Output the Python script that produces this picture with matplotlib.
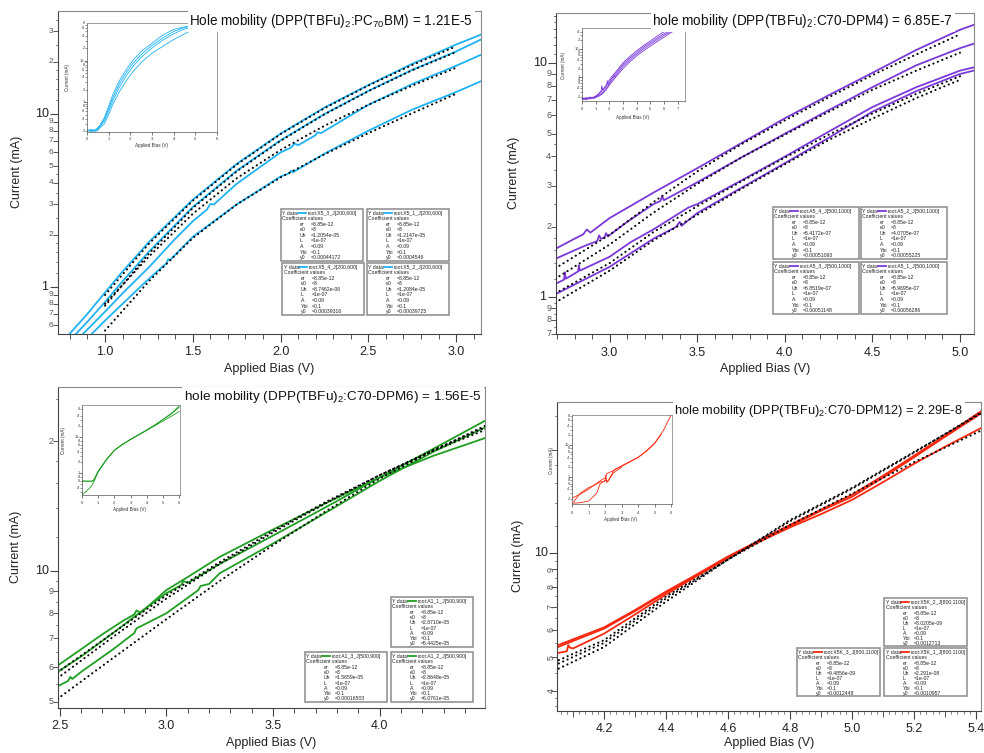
import matplotlib
matplotlib.use("Agg")
import numpy as np
import matplotlib.pyplot as plt
import matplotlib.transforms as mtransforms
from matplotlib.lines import Line2D
from matplotlib.patches import Rectangle
from matplotlib.ticker import FixedLocator, NullFormatter

plt.rcParams['font.family'] = ['Liberation Sans', 'DejaVu Sans']
plt.rcParams['mathtext.fontset'] = 'custom'
plt.rcParams['mathtext.rm'] = 'Liberation Sans'
plt.rcParams['mathtext.it'] = 'Liberation Sans:italic'
plt.rcParams['mathtext.bf'] = 'Liberation Sans:bold'

# ---------------- data ----------------
# Panel 1 (PC70BM)
p1_a_v = [0.79, 0.9, 1.0, 1.1, 1.25, 1.5, 1.75, 2.0, 2.25, 2.5, 2.75, 3.0, 3.15]
p1_a_i = [0.525, 0.70, 0.93, 1.23, 1.82, 3.2, 5.15, 7.7, 10.9, 14.7, 19.5, 25.2, 29.0]
p1_b_v = [0.83, 0.9, 1.0, 1.1, 1.25, 1.5, 1.75, 2.0, 2.25, 2.5, 2.75, 3.0, 3.15]
p1_b_i = [0.53, 0.63, 0.82, 1.08, 1.6, 2.9, 4.7, 7.05, 10.0, 13.6, 18.0, 23.0, 27.2]
p1_c_v = [0.87, 1.0, 1.1, 1.25, 1.4, 1.5, 1.58, 1.6, 1.62, 1.75, 2.0, 2.06, 2.08, 2.1, 2.2, 2.21, 2.23, 2.5, 2.75, 3.0, 3.15]
p1_c_i = [0.53, 0.72, 0.92, 1.3, 1.9, 2.4, 2.8, 3.02, 3.0, 3.95, 6.0, 6.4, 6.75, 6.6, 7.55, 7.85, 7.75, 11.3, 14.9, 19.0, 22.2]
p1_d_v = [0.92, 1.0, 1.1, 1.2, 1.3, 1.35, 1.36, 1.37, 1.5, 1.75, 2.0, 2.05, 2.06, 2.07, 2.25, 2.5, 2.75, 3.0, 3.15]
p1_d_i = [0.53, 0.64, 0.8, 1.0, 1.24, 1.37, 1.45, 1.43, 1.95, 3.0, 4.35, 4.55, 4.7, 4.6, 5.9, 8.0, 10.6, 13.4, 15.6]
p1_fit_v = [1.0, 1.25, 1.5, 1.75, 2.0, 2.25, 2.5, 2.75, 3.0]
p1_fa_i = [0.9, 1.78, 3.15, 5.1, 7.65, 10.8, 14.6, 19.2, 24.6]
p1_fb_i = [0.78, 1.56, 2.86, 4.66, 7.0, 9.95, 13.55, 17.9, 22.8]
p1_fc_i = [0.8, 1.5, 2.65, 4.25, 6.2, 8.55, 11.3, 14.6, 18.5]
p1_fd_i = [0.56, 1.08, 1.92, 3.0, 4.3, 5.85, 7.75, 10.1, 13.1]
# inset 1
p1i_v = [0, 0.2, 0.4, 0.5, 0.6, 0.8, 1.0, 1.2, 1.5, 1.8, 2.1, 2.5, 3.0, 3.5, 4.0, 4.4, 4.75]
p1i_i1 = [0.21, 0.2, 0.22, 0.24, 0.28, 0.42, 0.8, 1.55, 3.3, 5.9, 9.8, 16.5, 26, 41, 56, 63, 68]
p1i_i2 = [0.2, 0.22, 0.2, 0.23, 0.27, 0.38, 0.7, 1.3, 2.8, 5.0, 8.3, 14, 23, 35, 50, 60, 67]
p1i_i3 = [0.22, 0.19, 0.21, 0.22, 0.26, 0.35, 0.6, 1.1, 2.3, 4.2, 7.0, 12, 20, 31, 44, 55, 62]
p1i_i4 = [0.2, 0.21, 0.2, 0.21, 0.24, 0.3, 0.5, 0.9, 1.8, 3.2, 5.2, 9, 15, 22, 32, 41, 51]

# Panel 2 (C70-DPM4)
p2_a_v = [2.69, 2.8, 2.85, 2.87, 2.89, 3.0, 3.25, 3.5, 3.75, 4.0, 4.25, 4.5, 4.75, 5.0, 5.09]
p2_a_i = [1.61, 1.78, 1.86, 1.95, 1.89, 2.18, 2.8, 3.56, 4.55, 5.82, 7.3, 9.1, 11.4, 13.9, 14.7]
p2_b_v = [2.69, 2.85, 2.93, 2.94, 2.95, 2.97, 2.98, 2.99, 3.1, 3.25, 3.29, 3.3, 3.31, 3.5, 3.75, 4.0, 4.25, 4.5, 4.75, 5.0, 5.09]
p2_b_i = [1.46, 1.65, 1.74, 1.84, 1.78, 1.8, 1.88, 1.82, 2.1, 2.5, 2.58, 2.7, 2.6, 3.1, 3.95, 5.0, 6.3, 7.9, 9.8, 11.6, 12.2]
p2_c_v = [2.69, 2.74, 2.745, 2.75, 2.82, 2.825, 2.83, 3.0, 3.12, 3.25, 3.45, 3.5, 3.75, 4.0, 4.25, 4.5, 4.75, 5.0, 5.09]
p2_c_i = [1.14, 1.19, 1.28, 1.2, 1.29, 1.37, 1.3, 1.49, 1.72, 1.95, 2.42, 2.5, 3.15, 3.99, 5.1, 6.5, 7.9, 9.3, 9.65]
p2_d_v = [2.69, 3.0, 3.25, 3.38, 3.4, 3.41, 3.5, 3.75, 4.0, 4.25, 4.5, 4.75, 5.0, 5.09]
p2_d_i = [1.03, 1.35, 1.78, 2.0, 2.1, 2.02, 2.29, 2.93, 3.74, 4.8, 6.21, 7.6, 9.0, 9.35]
p2_fit_v = [2.69, 3.0, 3.25, 3.5, 3.75, 4.0, 4.25, 4.5, 4.75, 5.0]
p2_fa_i = [1.33, 1.85, 2.55, 3.45, 4.5, 5.7, 7.15, 8.9, 10.9, 13.3]
p2_fb_i = [1.2, 1.68, 2.3, 3.05, 3.95, 4.95, 6.2, 7.7, 9.3, 11.1]
p2_fc_i = [1.04, 1.4, 1.9, 2.45, 3.12, 3.95, 4.95, 6.1, 7.4, 8.8]
p2_fd_i = [0.95, 1.3, 1.75, 2.25, 2.9, 3.7, 4.7, 5.8, 7.1, 8.5]
# inset 2
p2i_v1 = [0, 0.3, 0.6, 0.9, 1.2, 1.4, 1.45, 1.5, 1.8, 2.1, 2.5, 3.0, 3.5, 4.0, 4.5, 5.0, 5.5, 6.0, 6.4]
p2i_i1 = [0.18, 0.16, 0.19, 0.2, 0.26, 0.33, 0.5, 0.36, 0.55, 0.95, 1.6, 3.2, 5.4, 8.6, 13, 19, 28, 40, 54]
p2i_v2 = [0, 0.3, 0.6, 0.9, 1.2, 1.4, 1.6, 1.8, 1.85, 1.9, 2.1, 2.5, 3.0, 3.5, 4.0, 4.5, 5.0, 5.5, 6.0, 6.5, 6.8]
p2i_i2 = [0.17, 0.19, 0.17, 0.19, 0.24, 0.3, 0.38, 0.5, 0.75, 0.55, 0.82, 1.4, 2.8, 4.7, 7.4, 11.5, 16.5, 24, 34, 46, 54]
p2i_v3 = [0, 0.3, 0.6, 0.9, 1.2, 1.5, 1.8, 2.1, 2.3, 2.35, 2.4, 2.5, 3.0, 3.5, 4.0, 4.5, 5.0, 5.5, 6.0, 6.5, 7.0]
p2i_i3 = [0.16, 0.18, 0.2, 0.18, 0.22, 0.28, 0.42, 0.7, 0.95, 1.2, 1.0, 1.2, 2.4, 4.1, 6.5, 10, 14.5, 21, 30, 41, 54]
p2i_v4 = [0, 0.3, 0.6, 0.9, 1.2, 1.5, 1.8, 2.1, 2.5, 3.0, 3.5, 4.0, 4.5, 5.0, 5.5, 6.0, 6.5, 7.1]
p2i_i4 = [0.19, 0.17, 0.18, 0.2, 0.21, 0.26, 0.38, 0.6, 1.05, 2.0, 3.5, 5.6, 8.6, 12.5, 18, 26, 37, 54]

# Panel 3 (C70-DPM6)
p3_a_v = [2.49, 2.6, 2.7, 2.8, 2.85, 2.86, 2.88, 2.95, 3.0, 3.1, 3.25, 3.5, 3.75, 4.0, 4.25, 4.5]
p3_a_i = [6.05, 6.6, 7.15, 7.7, 7.95, 8.12, 8.02, 8.6, 9.05, 9.7, 10.8, 12.5, 14.4, 16.5, 18.5, 20.4]
p3_b_v = [2.49, 2.6, 2.75, 2.9, 3.0, 3.07, 3.08, 3.1, 3.25, 3.5, 3.75, 4.0, 4.25, 4.5]
p3_b_i = [5.85, 6.35, 7.2, 8.2, 8.9, 9.3, 9.5, 9.4, 10.4, 12.1, 14.1, 16.5, 19.2, 22.4]
p3_c_v = [2.49, 2.54, 2.55, 2.56, 2.6, 2.75, 2.85, 2.86, 2.9, 3.0, 3.15, 3.16, 3.2, 3.25, 3.5, 3.75, 4.0, 4.25, 4.5]
p3_c_i = [5.42, 5.58, 5.7, 5.64, 5.85, 6.6, 7.2, 7.38, 7.55, 8.0, 9.05, 9.25, 9.35, 9.9, 11.6, 13.7, 16.2, 18.9, 21.6]
p3_fit_v = [2.49, 2.75, 3.0, 3.25, 3.5, 3.75, 4.0, 4.25, 4.5]
p3_fa_i = [5.84, 7.2, 8.8, 10.5, 12.4, 14.5, 16.7, 19.0, 21.3]
p3_fb_i = [5.66, 7.05, 8.65, 10.4, 12.3, 14.4, 16.7, 19.1, 21.6]
p3_fc_i = [5.07, 6.3, 7.75, 9.5, 11.5, 13.8, 16.4, 19.0, 21.8]
# inset 3
p3i_v1 = [0, 0.3, 0.6, 0.7, 1.0, 1.5, 2.0, 2.5, 3.0, 3.5, 4.0, 4.5, 5.0, 5.5, 6.0]
p3i_i1 = [0.6, 0.61, 0.6, 0.62, 1.15, 2.4, 4.4, 6.4, 8.8, 11.8, 16, 22, 31.6, 46, 74]
p3i_i2 = [0.62, 0.6, 0.61, 0.63, 1.12, 2.35, 4.3, 6.3, 8.7, 11.6, 15.6, 21, 28.5, 38, 52]
p3i_v3 = [0, 0.3, 0.6, 0.75, 1.0, 1.5, 2.0, 2.5, 3.0, 3.5, 4.0, 4.5, 5.0, 5.5, 6.0]
p3i_i3 = [0.25, 0.33, 0.45, 0.6, 1.1, 2.4, 4.4, 6.4, 8.8, 11.8, 16, 22, 31, 44, 68]

# Panel 4 (C70-DPM12)
p4_a_v = [4.04, 4.2, 4.3, 4.4, 4.5, 4.6, 4.7, 4.8, 4.9, 5.0, 5.1, 5.2, 5.3, 5.42]
p4_a_i = [5.37, 6.1, 6.85, 7.75, 8.7, 9.8, 10.9, 12.1, 13.4, 14.8, 16.8, 19.2, 22.0, 26.0]
p4_b_v = [4.04, 4.08, 4.085, 4.09, 4.1, 4.2, 4.3, 4.4, 4.5, 4.6, 4.7, 4.8, 4.9, 5.0, 5.1, 5.2, 5.3, 5.42]
p4_b_i = [5.12, 5.2, 5.42, 5.33, 5.3, 5.85, 6.65, 7.6, 8.6, 9.7, 10.8, 12.0, 13.3, 14.6, 16.6, 19.0, 21.8, 25.6]
p4_c_v = [4.04, 4.2, 4.3, 4.4, 4.5, 4.6, 4.7, 4.8, 4.9, 5.0, 5.1, 5.2, 5.3, 5.42]
p4_c_i = [5.3, 6.05, 6.8, 7.7, 8.65, 9.75, 10.8, 11.9, 13.0, 14.3, 16.1, 18.2, 20.4, 23.2]
p4_fit_v = [4.04, 4.2, 4.4, 4.6, 4.8, 5.0, 5.2, 5.42]
p4_fa_i = [4.84, 5.6, 7.5, 9.6, 12.5, 15.5, 19.7, 25.6]
p4_fb_i = [4.73, 5.5, 7.4, 9.6, 12.4, 15.4, 19.6, 25.8]
p4_fc_i = [4.57, 5.35, 7.25, 9.6, 12.1, 14.9, 18.4, 22.8]
# inset 4
p4i_v1 = [0, 0.5, 1.0, 1.5, 1.8, 2.0, 2.1, 2.5, 3.0, 3.5, 4.0, 4.5, 5.0, 5.5, 6.0]
p4i_i1 = [0.21, 0.28, 0.4, 0.62, 0.8, 0.9, 1.25, 1.55, 2.2, 3.0, 4.1, 6.5, 11.5, 27, 88]
p4i_v2 = [0, 0.5, 1.0, 1.5, 1.7, 2.0, 2.2, 2.5, 2.6, 3.0, 3.5, 4.0, 4.5, 5.0, 5.4]
p4i_i2 = [0.145, 0.15, 0.17, 0.3, 0.6, 0.75, 0.72, 1.5, 1.7, 2.1, 2.9, 4.0, 6.3, 11, 22]
p4i_v3 = [0.1, 0.5, 1.0, 1.4, 1.7, 2.0, 2.05, 2.1, 2.5, 3.0]
p4i_i3 = [0.16, 0.3, 0.45, 0.55, 0.68, 0.72, 1.1, 0.65, 1.3, 2.0]

# coefficient boxes
p1_roots = ['root:X5_3_J[200,600]', 'root:X5_1_J[200,600]', 'root:X5_4_J[200,600]', 'root:X5_2_J[200,600]']
p1_uh = ['1.2054e-05', '1.2147e-05', '8.7462e-06', '1.2084e-05']
p1_y0 = ['0.00044172', '0.0004546', '0.00039316', '0.00039725']
p2_roots = ['root:A5_4_J[500,1000]', 'root:A5_2_J[500,1000]', 'root:A5_3_J[500,1000]', 'root:A5_1_J[500,1000]']
p2_uh = ['5.4172e-07', '4.0705e-07', '6.8519e-07', '5.9695e-07']
p2_y0 = ['0.00051093', '0.00055225', '0.00051148', '0.00056286']
p3_roots = ['root:A1_1_J[500,900]', 'root:A1_3_J[500,900]', 'root:A1_2_J[500,900]']
p3_uh = ['2.8710e-05', '1.5659e-05', '2.8648e-05']
p3_y0 = ['5.4425e-05', '0.00016503', '6.0761e-05']
p4_roots = ['root:X5K_2_J[800,1100]', 'root:X5K_3_J[800,1100]', 'root:X5K_1_J[800,1100]']
p4_uh = ['8.0205e-09', '9.4856e-09', '2.291e-08']
p4_y0 = ['0.0012713', '0.0012448', '0.0010957']

titles = [r"Hole mobility (DPP(TBFu)$_{2}$:PC$_{70}$BM) = 1.21E-5",
          r"hole mobility (DPP(TBFu)$_{2}$:C70-DPM4) = 6.85E-7",
          r"hole mobility (DPP(TBFu)$_{2}$:C70-DPM6) = 1.56E-5",
          r"hole mobility (DPP(TBFu)$_{2}$:C70-DPM12) = 2.29E-8"]

C1, C2, C3, C4 = '#1fb2f2', '#7b38d8', '#1f9e22', '#f8280f'

# ---------------- helpers ----------------
W, H = 984, 753
fig = plt.figure(figsize=(W / 100, H / 100), dpi=100)
PT = 0.72  # points per pixel


def px_axes(l, t, r, b):
    return fig.add_axes([l / W, 1 - b / H, (r - l) / W, (b - t) / H])


def base_style(ax, xlim, ylim, xmaj, xmin, ymaj, ymin, maj_len, min_len, lw, spc):
    ax.set_yscale('log')
    ax.set_xlim(*xlim)
    ax.set_ylim(*ylim)
    ax.xaxis.set_major_locator(FixedLocator(xmaj))
    ax.xaxis.set_minor_locator(FixedLocator(xmin))
    ax.yaxis.set_major_locator(FixedLocator(ymaj))
    ax.yaxis.set_minor_locator(FixedLocator(ymin))
    for a in (ax.xaxis, ax.yaxis):
        a.set_major_formatter(NullFormatter())
        a.set_minor_formatter(NullFormatter())
    ax.tick_params(which='major', direction='out', length=maj_len, width=lw, color='#444')
    ax.tick_params(which='minor', direction='out', length=min_len, width=lw * 0.8, color='#444')
    for k, s in ax.spines.items():
        s.set_linewidth(lw)
        s.set_color(spc[0] if k in ('left', 'bottom') else spc[1])


def fine_y(ax, ys, length_px):
    trans = mtransforms.blended_transform_factory(ax.transAxes, ax.transData)
    wpx = ax.get_position().width * W
    for y in ys:
        ax.add_line(Line2D([-length_px / wpx, 0], [y, y], transform=trans,
                           color='#444', lw=0.45, clip_on=False))


def fine_x(ax, xs, length_px):
    trans = mtransforms.blended_transform_factory(ax.transData, ax.transAxes)
    hpx = ax.get_position().height * H
    for x in xs:
        ax.add_line(Line2D([x, x], [-length_px / hpx, 0], transform=trans,
                           color='#444', lw=0.45, clip_on=False))


def ylab(ax, v, s, off_px, fs, color='#222', rot=0):
    ax.annotate(s, xy=(0, v), xycoords=('axes fraction', 'data'), xytext=(-off_px * PT, 0),
                textcoords='offset points', ha='right' if rot == 0 else 'center',
                va='center', fontsize=fs, color=color, rotation=rot, annotation_clip=False)


def xlab(ax, v, s, off_px, fs, color='#222'):
    ax.annotate(s, xy=(v, 0), xycoords=('data', 'axes fraction'), xytext=(0, -off_px * PT),
                textcoords='offset points', ha='center', va='center', fontsize=fs,
                color=color, annotation_clip=False)


def ftext(x, y, s, **kw):
    return fig.text(x / W, 1 - y / H, s, **kw)


def coef_box(x, y, w, h, color, root, uh, y0):
    fig.add_artist(Rectangle((x / W, 1 - (y + h) / H), w / W, h / H, transform=fig.transFigure,
                             facecolor='white', edgecolor='#8a8a8a', lw=1.1, zorder=20))
    fs = 3.7
    kw = dict(fontsize=fs, color='#222', va='center', ha='left', zorder=21)
    ftext(x + 1.5, y + 4.3, 'Y data:', **kw)
    fig.add_artist(Line2D([(x + 17) / W, (x + 25) / W], [1 - (y + 4.3) / H] * 2,
                          transform=fig.transFigure, color=color, lw=1.3, zorder=21))
    ftext(x + 27, y + 4.3, root, **kw)
    ftext(x + 1.5, y + 9.8, 'Coefficient values', **kw)
    names = ['er', 'e0', 'Uh', 'L', 'A', 'Ybi', 'y0']
    vals = ['=8.85e-12', '=3', '=' + uh, '=1e-07', '=0.09', '=0.1', '=' + y0]
    step = (h - 15.2) / 6.6
    for k, (n, v) in enumerate(zip(names, vals)):
        yy = y + 15.2 + step * k
        ftext(x + 19, yy, n, **kw)
        ftext(x + 30, yy, v, **kw)


def fit_line(ax, v, i):
    ax.plot(v, i, color='black', lw=1.5, linestyle=(0, (0.1, 2.2)),
            dash_capstyle='round', zorder=3)


def data_line(ax, v, i, c, lw=1.3):
    ax.plot(v, i, color=c, lw=lw, zorder=2, solid_joinstyle='round')


def inset_axes(rect, xlim, ylim, xt, ymaj, ymin_lab, ymin_extra, ylabels, xlab_off, xl_pos, yl_pos):
    ax = px_axes(*rect)
    base_style(ax, xlim, ylim, xt, [], ymaj, list(ymin_lab) + list(ymin_extra), 2.0, 1.2, 0.5,
               ('#555', '#777'))
    for v in xt:
        xlab(ax, v, '%d' % v, xlab_off, 3.0, '#333')
    for v, s in ylabels:
        ylab(ax, v, s, 2.5, 2.8, '#333')
    ftext(xl_pos[0], xl_pos[1], 'Applied Bias (V)', fontsize=3.3, color='#333', ha='center', va='center')
    ftext(yl_pos[0], yl_pos[1], 'Current (mA)', fontsize=3.3, color='#333', ha='center',
          va='center', rotation=90)
    return ax


def log_fine(lo, hi):
    out = []
    for dec in [0.1, 1, 10]:
        for m in [1.2, 1.4, 1.6, 1.8, 2.5, 3.5, 4.5]:
            v = m * dec
            if lo < v < hi:
                out.append(v)
    return out


def mant(lo, hi):
    out = []
    for dec in [0.1, 1, 10]:
        for m in range(2, 10):
            v = m * dec
            if lo < v < hi:
                out.append(v)
    return out


def mant_label(v):
    return '%d' % round(v / (10 ** np.floor(np.log10(v) + 1e-9)))


# ---------------- Panel 1 ----------------
ax1 = px_axes(58, 11, 481, 334)
xl1, yl1 = (0.732, 3.142), (0.535, 39.4)
base_style(ax1, xl1, yl1, [1.0, 1.5, 2.0, 2.5, 3.0], np.arange(0.8, 3.15, 0.1), [1, 10],
           mant(*yl1), 6, 3.5, 0.8, ('#444', '#888'))
fine_y(ax1, log_fine(*yl1), 2.0)
for v, c in [(p1_a_v, p1_a_i), (p1_b_v, p1_b_i), (p1_c_v, p1_c_i), (p1_d_v, p1_d_i)]:
    data_line(ax1, v, c, C1)
for fi in [p1_fa_i, p1_fb_i, p1_fc_i, p1_fd_i]:
    fit_line(ax1, p1_fit_v, fi)
for v in [1.0, 1.5, 2.0, 2.5, 3.0]:
    xlab(ax1, v, '%.1f' % v, 18, 9)
ylab(ax1, 10, '10', 8.5, 9)
ylab(ax1, 1, '1', 10, 9)
for v in mant(*yl1):
    ylab(ax1, v, mant_label(v), 4.5, 6, '#555')
ftext(269, 369, 'Applied Bias (V)', fontsize=9, ha='center', va='center', color='#222')
ftext(17, 172, 'Current (mA)', fontsize=9, ha='center', va='center', rotation=90, color='#222')

ia1 = inset_axes((87, 23, 217, 132), (0, 6), (0.19, 80), [0, 1, 2, 3, 4, 5, 6], [1, 10],
                 [0.2, 0.4, 0.6, 0.8, 2, 4, 6, 8, 20, 40, 60], [0.3, 0.5, 0.7, 0.9, 3, 5, 7, 9, 30, 50, 70],
                 [(1, '1'), (10, '10'), (0.2, '2'), (0.4, '4'), (0.6, '6'), (0.8, '8'), (2, '2'), (4, '4'),
                  (6, '6'), (8, '8'), (20, '2'), (40, '4'), (60, '6'), (80, '8')],
                 7, (152, 146), (68, 77))
for ii in [p1i_i1, p1i_i2, p1i_i3, p1i_i4]:
    ia1.plot(p1i_v, ii, color=C1, lw=0.6)

# ---------------- Panel 2 ----------------
ax2 = px_axes(556, 13, 974, 334)
xl2, yl2 = (2.694, 5.08), (0.697, 16.4)
base_style(ax2, xl2, yl2, [3.0, 3.5, 4.0, 4.5, 5.0], np.arange(2.7, 5.05, 0.1), [1, 10],
           mant(*yl2), 6, 3.5, 0.8, ('#444', '#888'))
fine_y(ax2, log_fine(*yl2) + [11, 12, 13, 14, 15, 16, 0.75, 0.85, 0.95], 2.0)
for v, c in [(p2_a_v, p2_a_i), (p2_b_v, p2_b_i), (p2_c_v, p2_c_i), (p2_d_v, p2_d_i)]:
    data_line(ax2, v, c, C2)
for fi in [p2_fa_i, p2_fb_i, p2_fc_i, p2_fd_i]:
    fit_line(ax2, p2_fit_v, fi)
for v in [3.0, 3.5, 4.0, 4.5, 5.0]:
    xlab(ax2, v, '%.1f' % v, 18.7, 9)
ylab(ax2, 10, '10', 9, 9)
ylab(ax2, 1, '1', 10, 9)
for v in mant(yl2[0], 10):
    ylab(ax2, v, mant_label(v), 4.7, 6.5, '#555')
ftext(765, 369, 'Applied Bias (V)', fontsize=9, ha='center', va='center', color='#222')
ftext(514, 173, 'Current (mA)', fontsize=9, ha='center', va='center', rotation=90, color='#222')

ia2 = inset_axes((582, 28, 685, 101), (0, 7.53), (0.145, 54), [0, 1, 2, 3, 4, 5, 6, 7], [1, 10],
                 [0.2, 0.4, 0.6, 0.8, 2, 4, 6, 8, 20, 40], [0.3, 0.5, 3, 5, 30],
                 [(1, '1'), (10, '10'), (0.2, '2'), (0.4, '4'), (0.6, '6'), (0.8, '8'), (2, '2'), (4, '4'),
                  (6, '6'), (8, '8'), (20, '2'), (40, '4')],
                 8.3, (633, 117), (563, 65))
for vv, ii in [(p2i_v1, p2i_i1), (p2i_v2, p2i_i2), (p2i_v3, p2i_i3), (p2i_v4, p2i_i4)]:
    ia2.plot(vv, ii, color=C2, lw=0.6)

# ---------------- Panel 3 ----------------
ax3 = px_axes(58, 387, 485, 708)
xl3, yl3 = (2.4925, 4.493), (4.83, 26.7)
base_style(ax3, xl3, yl3, [2.5, 3.0, 3.5, 4.0], np.arange(2.6, 4.45, 0.1), [10],
           mant(*yl3), 6, 3.5, 0.8, ('#444', '#888'))
fine_y(ax3, [5.5, 6.5, 7.5, 8.5, 9.5, 12, 14, 16, 18, 25], 2.0)
for v, c in [(p3_a_v, p3_a_i), (p3_b_v, p3_b_i), (p3_c_v, p3_c_i)]:
    data_line(ax3, v, c, C3)
for fi in [p3_fa_i, p3_fb_i, p3_fc_i]:
    fit_line(ax3, p3_fit_v, fi)
for v in [2.5, 3.0, 3.5, 4.0]:
    xlab(ax3, v, '%.1f' % v, 18.4, 9)
ylab(ax3, 10, '10', 8.5, 9)
for v in mant(*yl3):
    if v == 20 or v < 10:
        ylab(ax3, v, mant_label(v), 4.4, 6.5, '#555')
ftext(271, 743, 'Applied Bias (V)', fontsize=9, ha='center', va='center', color='#222')
ftext(16, 547, 'Current (mA)', fontsize=9, ha='center', va='center', rotation=90, color='#222')

ia3 = inset_axes((82, 405, 180, 495), (0, 6.05), (0.25, 79), [0, 1, 2, 3, 4, 5, 6], [1, 10],
                 [0.4, 0.6, 0.8, 2, 4, 6, 8, 20, 40, 60], [0.3, 0.5, 3, 5, 30],
                 [(1, '1'), (10, '10'), (0.4, '4'), (0.6, '6'), (0.8, '8'), (2, '2'), (4, '4'),
                  (6, '6'), (8, '8'), (20, '2'), (40, '4'), (60, '6')],
                 8, (130, 510), (63, 440))
for vv, ii in [(p3i_v1, p3i_i1), (p3i_v1, p3i_i2), (p3i_v3, p3i_i3)]:
    ia3.plot(vv, ii, color=C3, lw=0.6)

# ---------------- Panel 4 ----------------
ax4 = px_axes(557, 402, 981, 711)
xl4, yl4 = (4.0485, 5.416), (3.49, 27.5)
base_style(ax4, xl4, yl4, [4.2, 4.4, 4.6, 4.8, 5.0, 5.2, 5.4], np.arange(4.1, 5.41, 0.2), [10],
           mant(*yl4), 6, 4.0, 0.8, ('#444', '#888'))
fine_x(ax4, [x for x in np.arange(4.06, 5.41, 0.02) if abs((x * 10) - round(x * 10)) > 0.05], 2.5)
fine_y(ax4, [3.6, 3.8, 4.5, 5.5, 6.5, 7.5, 8.5, 9.5, 12, 14, 16, 18, 25], 2.0)
for v, c in [(p4_a_v, p4_a_i), (p4_b_v, p4_b_i), (p4_c_v, p4_c_i)]:
    data_line(ax4, v, c, C4)
for fi in [p4_fa_i, p4_fb_i, p4_fc_i]:
    fit_line(ax4, p4_fit_v, fi)
for v in [4.2, 4.4, 4.6, 4.8, 5.0, 5.2, 5.4]:
    xlab(ax4, v, '%.1f' % v, 17.6, 9)
ylab(ax4, 10, '10', 8.5, 9)
for v in mant(yl4[0], 10):
    ylab(ax4, v, '%d' % round(v), 5.7, 6.5, '#555', rot=90)
ftext(769, 743, 'Applied Bias (V)', fontsize=9, ha='center', va='center', color='#222')
ftext(518, 556, 'Current (mA)', fontsize=9, ha='center', va='center', rotation=90, color='#222')

ia4 = inset_axes((572, 415, 672, 504), (0, 6.05), (0.137, 88), [0, 1, 2, 3, 4, 5, 6], [1, 10],
                 [0.2, 0.4, 0.6, 0.8, 2, 4, 6, 8, 20, 40, 60, 80], [0.3, 0.5, 3, 5, 30],
                 [(1, '1'), (10, '10'), (0.2, '2'), (0.4, '4'), (0.6, '6'), (0.8, '8'), (2, '2'), (4, '4'),
                  (6, '6'), (8, '8'), (20, '2'), (40, '4'), (60, '6'), (80, '8')],
                 9, (621, 520), (552, 460))
for vv, ii in [(p4i_v1, p4i_i1), (p4i_v2, p4i_i2), (p4i_v3, p4i_i3)]:
    ia4.plot(vv, ii, color=C4, lw=0.6)

# ---------------- titles ----------------
for (x, y), t, fs in zip([(473, 21), (953, 21), (482, 397), (963, 411)], titles, [9.75, 9.8, 9.7, 9.2]):
    ftext(x, y, t, fontsize=fs, ha='right', va='center', color='#111', zorder=15,
          bbox=dict(facecolor='white', edgecolor='none', pad=1.2))

# ---------------- coefficient boxes ----------------
for (x, y), r, u, y0 in zip([(281, 209), (367, 209), (282, 263), (367, 263)], p1_roots, p1_uh, p1_y0):
    coef_box(x, y, 82, 52, C1, r, u, y0)
for (x, y), r, u, y0 in zip([(773, 207), (861, 207), (773, 262), (861, 262)], p2_roots, p2_uh, p2_y0):
    coef_box(x, y, 86, 52, C2, r, u, y0)
for (x, y), r, u, y0 in zip([(391, 597), (305, 652), (391, 652)], p3_roots, p3_uh, p3_y0):
    coef_box(x, y, 82, 50, C3, r, u, y0)
for (x, y), r, u, y0 in zip([(884, 598), (797, 648), (884, 648)], p4_roots, p4_uh, p4_y0):
    coef_box(x, y, 83, 48, C4, r, u, y0)

fig.savefig('out.png', dpi=100, facecolor='white')
